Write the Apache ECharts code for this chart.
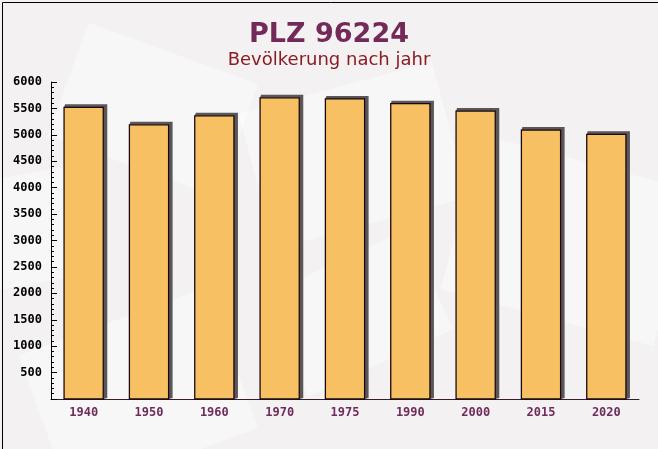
<!DOCTYPE html>
<html><head><meta charset="utf-8">
<script src="https://cdn.jsdelivr.net/npm/echarts@6/dist/echarts.min.js"></script>
<style>html,body{margin:0;padding:0;background:#f3f1f1}#c{width:658px;height:449px}</style>
</head><body><div id="c"></div>
<script>
const categories = ['1940','1950','1960','1970','1975','1990','2000','2015','2020'];
const population = [5520, 5190, 5360, 5700, 5680, 5590, 5450, 5090, 5010];
const yTicks = [500,1000,1500,2000,2500,3000,3500,4000,4500,5000,5500,6000];
const titleText = 'PLZ 96224';
const subtitleText = 'Bevölkerung nach jahr';

const chart = echarts.init(document.getElementById('c'), null, {renderer:'canvas'});
const bg = [];
const shapes = [
  [40,60,180,120,-20],[250,20,200,140,15],[480,40,170,120,-25],[120,260,200,150,20],
  [380,250,220,160,-15],[560,300,150,120,30],[-30,180,140,110,10],[300,120,160,110,25]
];
shapes.forEach(s=>bg.push({type:'rect',x:s[0],y:s[1],rotation:s[4]*Math.PI/180,originX:s[0]+s[2]/2,originY:s[1]+s[3]/2,shape:{width:s[2],height:s[3]},style:{fill:'rgba(255,255,255,0.45)'},z:-10,silent:true}));
bg.push({type:'rect',left:0,top:0,shape:{width:657,height:448},style:{fill:'none',stroke:'#000',lineWidth:1},z:100,silent:true});

function renderBar(params, api){
  const idx = api.value(0);
  const val = api.value(1);
  const top = api.coord([idx, val]);
  const base = api.coord([idx, 0]);
  const bw = api.size([1,0])[0]*0.6;
  const x0 = top[0]-bw/2, x1 = top[0]+bw/2, y = top[1], yb = base[1];
  const dx = 4, dy = 3;
  return {type:'group',children:[
    {type:'polygon',shape:{points:[[x0+1,y-dy],[x1+dx,y-dy],[x1+dx,yb-1],[x1,yb],[x1,y],[x0,y]]},
     style:{fill:'#5b5657'}},
    {type:'rect',shape:{x:x0,y:y,width:bw,height:yb-y},
     style:{fill:'#f7c062',stroke:'#1a0a10',lineWidth:1.3}}
  ]};
}

chart.setOption({
  backgroundColor:'#f3f1f1',
  animation:false,
  graphic:bg,
  title:[{text:titleText,left:'center',top:16,textStyle:{fontFamily:'DejaVu Sans',fontWeight:'bold',fontSize:27,color:'#732a58'}},
         {text:subtitleText,left:'center',top:46,textStyle:{fontFamily:'DejaVu Sans',fontWeight:'normal',fontSize:18,color:'#8a1c24'}}],
  grid:{left:51,right:19,top:82,bottom:50},
  xAxis:{type:'category',data:categories,
    axisLine:{lineStyle:{color:'#3a1a30',width:1}},
    axisTick:{inside:true,length:5,lineStyle:{color:'#333'}},
    axisLabel:{color:'#6e2b5c',fontFamily:'DejaVu Sans Mono',fontWeight:'bold',fontSize:12,margin:8}},
  yAxis:{type:'value',min:0,max:6000,interval:500,
    axisLine:{show:true,lineStyle:{color:'#000',width:1}},
    axisTick:{show:true,inside:true,length:6,lineStyle:{color:'#000'}},
    minorTick:{show:true,splitNumber:5,length:3,lineStyle:{color:'#000'}},
    splitLine:{show:false},
    axisLabel:{color:'#000',fontFamily:'DejaVu Sans Mono',fontWeight:'bold',fontSize:12,margin:9,
      formatter:v=>yTicks.indexOf(v)>=0?String(v):''}},
  series:[{type:'custom',renderItem:renderBar,encode:{x:0,y:1},
    data:population.map((v,i)=>[i,v])}]
});
</script></body></html>
